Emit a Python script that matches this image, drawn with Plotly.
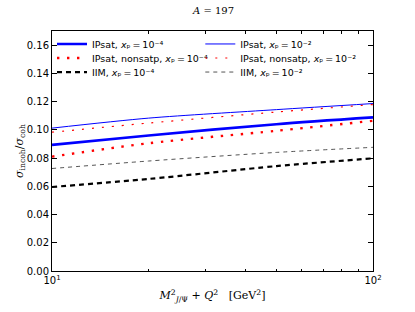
import plotly.graph_objects as go

x_vals = [10, 20, 50, 100]

ipsat_4 = [0.0893, 0.0960, 0.1040, 0.1088]
ipsat_2 = [0.1012, 0.1083, 0.1143, 0.1186]
nonsat_4 = [0.0810, 0.0905, 0.0993, 0.1064]
nonsat_2 = [0.0983, 0.1048, 0.1126, 0.1179]
iim_4 = [0.0595, 0.0652, 0.0743, 0.0798]
iim_2 = [0.0726, 0.0779, 0.0840, 0.0876]

y_ticks = [0.00, 0.02, 0.04, 0.06, 0.08, 0.10, 0.12, 0.14, 0.16]
x_ticks = [10, 100]
x_ticktext = ["10<sup>1</sup>", "10<sup>2</sup>"]
x_minor = [20, 30, 40, 50, 60, 70, 80, 90]

def xp(e):
    return "<i>x</i>\u209a\u2009=\u200910\u207b" + ("\u2074" if e == 4 else "\u00b2")

# name, values, colour, width, dash, column, row
series = [
    ("IPsat, " + xp(4), ipsat_4, "#0000ff", 2.6, "solid", 0, 0),
    ("IPsat, " + xp(2), ipsat_2, "#0000ff", 1.0, "solid", 1, 0),
    ("IPsat, nonsatp, " + xp(4), nonsat_4, "#ff0000", 2.4, "2.4px,7.6px", 0, 1),
    ("IPsat, nonsatp, " + xp(2), nonsat_2, "#ff0000", 1.2, "2px,8px", 1, 1),
    ("IIM, " + xp(4), iim_4, "#000000", 2.2, "5px,4px", 0, 2),
    ("IIM, " + xp(2), iim_2, "#555555", 1.0, "4px,4px", 1, 2),
]

col_x = [0.0, 0.462]
row_y = [0.946, 0.8875, 0.829]

fig = go.Figure()
legend_layouts = {}
for i, (name, ys, col, w, dash, c, r) in enumerate(series):
    lid = "legend" if i == 0 else "legend%d" % (i + 1)
    fig.add_trace(go.Scatter(x=x_vals, y=ys, mode="lines", name=name, legend=lid,
                             line=dict(color=col, width=w, dash=dash, shape="spline", smoothing=0.8)))
    legend_layouts[lid] = dict(x=col_x[c], y=row_y[r], xanchor="left", yanchor="middle",
                               bgcolor="rgba(0,0,0,0)", borderwidth=0,
                               font=dict(family="DejaVu Sans", size=9.5, color="black"))

axis_common = dict(showline=True, linecolor="black", linewidth=1, mirror="ticks",
                   ticks="inside", tickcolor="black", showgrid=False, zeroline=False,
                   tickfont=dict(family="DejaVu Sans", size=10, color="black"))

fig.update_xaxes(type="log", range=[1, 2], tickvals=x_ticks, ticktext=x_ticktext,
                 ticklen=5, minor=dict(tickvals=x_minor, ticks="inside", ticklen=2.5, tickcolor="black"),
                 title=dict(text="<i>M</i><sup>2</sup><sub><i>J</i>/\u03a8</sub> + <i>Q</i><sup>2</sup>   [GeV<sup>2</sup>]",
                            font=dict(family="DejaVu Serif", size=11, color="black"), standoff=6),
                 **axis_common)
fig.update_yaxes(range=[0, 0.17], tickvals=y_ticks, tickformat=".2f", ticklen=5,
                 **axis_common)

fig.update_layout(
    width=415, height=312,
    margin=dict(l=52, r=42, t=31, b=41),
    paper_bgcolor="white", plot_bgcolor="white",
    annotations=[
        dict(text="<i>A</i> = 197", xref="paper", yref="paper", x=0.5, y=1.0875,
             xanchor="center", yanchor="middle", showarrow=False,
             font=dict(family="DejaVu Serif", size=10, color="black")),
        dict(text="<i>\u03c3</i><sub>incoh</sub>/<i>\u03c3</i><sub>coh</sub>",
             textangle=-90, xref="paper", yref="paper", x=-0.0997, y=0.5,
             xanchor="center", yanchor="middle", showarrow=False,
             font=dict(family="DejaVu Serif", size=11, color="black")),
    ],
    showlegend=True,
    **legend_layouts,
)

# remove the default 8px page margin so the figure sits at the window's corner
fig.write_html("out.html", config={"displayModeBar": False},
               post_script="document.body.style.margin='0px';")
